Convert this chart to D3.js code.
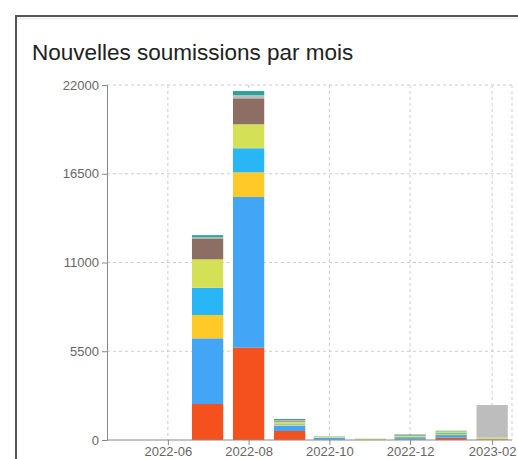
<!DOCTYPE html>
<html>
<head>
<meta charset="utf-8">
<script src="https://cdn.jsdelivr.net/npm/d3@7"></script>
<style>
  body { margin: 0; background: #fff; }
  svg { display: block; font-family: "Liberation Sans", Arial, sans-serif; }
</style>
</head>
<body>
<div id="chart"></div>
<script>
// months shown on the x axis (bar centred on the month start)
const months = ["2022-05", "2022-06", "2022-07", "2022-08", "2022-09", "2022-10", "2022-11", "2022-12", "2023-01", "2023-02"];
const tickLabels = ["2022-06", "2022-08", "2022-10", "2022-12", "2023-02"];
const yTicks = [0, 5500, 11000, 16500, 22000];

// stacked series, bottom to top
const seriesKeys = ["s1", "s2", "s3", "s4", "s5", "s6", "s7", "s8", "s9"];
const s1 = [0, 0, 2230, 5720, 560, 15, 5, 40, 140, 40];
const s2 = [0, 0, 4070, 9340, 330, 110, 5, 80, 165, 10];
const s3 = [0, 0, 1445, 1530, 70, 10, 5, 20, 60, 0];
const s4 = [0, 0, 1690, 1490, 60, 20, 5, 50, 60, 0];
const s5 = [0, 0, 1760, 1485, 90, 40, 40, 70, 70, 60];
const s6 = [0, 0, 0, 0, 30, 0, 20, 20, 55, 40];
const s7 = [0, 0, 1300, 1610, 70, 10, 0, 40, 0, 0];
const s8 = [0, 0, 70, 200, 30, 10, 0, 20, 20, 2020];
const s9 = [0, 0, 130, 250, 60, 10, 0, 20, 10, 0];
const seriesColors = ["#F4511E", "#42A5F5", "#FFCA28", "#29B6F6", "#D4E157", "#9CCC65", "#8D6E63", "#BDBDBD", "#26A69A"];

const W = 518, H = 459;
const margin = { top: 85, right: 6, bottom: 19, left: 107 };
const parseMonth = d3.timeParse("%Y-%m");

const allSeries = [s1, s2, s3, s4, s5, s6, s7, s8, s9];
const table = months.map((m, i) => {
    const row = { date: parseMonth(m) };
    seriesKeys.forEach((k, j) => row[k] = allSeries[j][i]);
    return row;
});

const svg = d3.select("#chart").append("svg")
    .attr("width", W)
    .attr("height", H);

// card frame
svg.append("rect")
    .attr("x", 16).attr("y", 16)
    .attr("width", W + 20).attr("height", H + 20)
    .attr("fill", "#fff")
    .attr("stroke", "#555")
    .attr("stroke-width", 2);
svg.append("line")
    .attr("x1", 17).attr("x2", W)
    .attr("y1", 18.5).attr("y2", 18.5)
    .attr("stroke", "#eee")
    .attr("stroke-width", 2);

svg.append("text")
    .attr("x", 32)
    .attr("y", 60)
    .attr("fill", "#222")
    .style("font-size", "22.5px")
    .text("Nouvelles soumissions par mois");

const first = table[0].date, last = table[table.length - 1].date;
const x = d3.scaleTime()
    .domain([d3.timeDay.offset(first, -15), d3.timeDay.offset(last, 15)])
    .range([margin.left, W - margin.right]);
const y = d3.scaleLinear()
    .domain([0, 22000])
    .range([H - margin.bottom, margin.top]);

const stack = d3.stack().keys(seriesKeys);
const layers = stack(table);

// grid
const grid = svg.append("g").attr("stroke", "#ccc").attr("stroke-dasharray", "3,3");
grid.selectAll(".hg").data(yTicks.filter(d => d > 0)).enter().append("line")
    .attr("x1", margin.left).attr("x2", W - margin.right)
    .attr("y1", d => y(d)).attr("y2", d => y(d));
grid.selectAll(".vg").data(tickLabels.map(parseMonth)).enter().append("line")
    .attr("x1", d => x(d)).attr("x2", d => x(d))
    .attr("y1", margin.top).attr("y2", H - margin.bottom);
grid.append("line")
    .attr("x1", W - margin.right).attr("x2", W - margin.right)
    .attr("y1", margin.top).attr("y2", H - margin.bottom);

const monthW = (x(last) - x(first)) / (months.length - 1);
const barW = monthW * 0.77;

svg.append("g").selectAll("g")
    .data(layers)
    .enter().append("g")
    .attr("fill", (d, i) => seriesColors[i])
    .selectAll("rect")
    .data(d => d)
    .enter().append("rect")
    .attr("x", d => x(d.data.date) - barW / 2)
    .attr("width", barW)
    .attr("y", d => y(d[1]))
    .attr("height", d => y(d[0]) - y(d[1]));

const xAxis = svg.append("g")
    .attr("transform", `translate(0,${H - margin.bottom})`)
    .call(d3.axisBottom(x)
        .tickValues(tickLabels.map(parseMonth))
        .tickFormat(d3.timeFormat("%Y-%m"))
        .tickSize(5)
        .tickPadding(2)
        .tickSizeOuter(0));

const yAxis = svg.append("g")
    .attr("transform", `translate(${margin.left},0)`)
    .call(d3.axisLeft(y).tickValues(yTicks).tickFormat(d3.format("d")).tickSize(5).tickPadding(3));

[xAxis, yAxis].forEach(a => {
    a.selectAll("path, line").attr("stroke", "#888");
    a.selectAll("text").attr("fill", "#666").style("font-size", "13px");
});
xAxis.select(".domain").attr("d", `M${margin.left},0H${W - margin.right}`);
</script>
</body>
</html>
